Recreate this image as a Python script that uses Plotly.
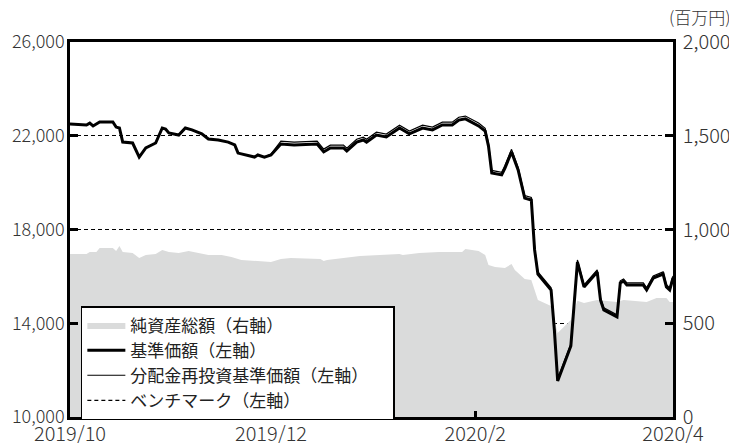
import plotly.graph_objects as go

# ---- data ----
nav_dates = [
    "2019-10-01", "2019-10-06", "2019-10-07", "2019-10-08", "2019-10-10", "2019-10-14",
    "2019-10-15", "2019-10-16", "2019-10-17", "2019-10-20", "2019-10-22", "2019-10-24",
    "2019-10-27", "2019-10-29", "2019-10-30", "2019-10-31", "2019-11-03", "2019-11-05",
    "2019-11-07", "2019-11-10", "2019-11-12", "2019-11-15", "2019-11-18", "2019-11-20",
    "2019-11-21", "2019-11-24", "2019-11-26", "2019-11-27", "2019-11-29", "2019-12-01",
    "2019-12-04", "2019-12-08", "2019-12-15", "2019-12-17", "2019-12-19", "2019-12-23",
    "2019-12-24", "2019-12-27", "2019-12-29", "2019-12-30", "2020-01-02", "2020-01-05",
    "2020-01-09", "2020-01-12", "2020-01-16", "2020-01-19", "2020-01-22", "2020-01-25",
    "2020-01-27", "2020-01-29", "2020-02-02", "2020-02-04", "2020-02-05", "2020-02-06",
    "2020-02-09", "2020-02-10", "2020-02-12", "2020-02-14", "2020-02-16", "2020-02-18",
    "2020-02-19", "2020-02-20", "2020-02-24", "2020-02-25", "2020-02-26", "2020-03-01",
    "2020-03-03", "2020-03-05", "2020-03-09", "2020-03-10", "2020-03-11", "2020-03-15",
    "2020-03-16", "2020-03-17", "2020-03-18", "2020-03-23", "2020-03-24", "2020-03-26",
    "2020-03-29", "2020-03-30", "2020-03-31", "2020-04-01",
]
nav_values = [
    22500, 22460, 22540, 22420, 22590, 22590, 22370, 22330, 21730, 21690, 21090, 21480,
    21690, 22330, 22290, 22120, 22030, 22330, 22250, 22080, 21860, 21820, 21730, 21610,
    21260, 21140, 21090, 21180, 21090, 21180, 21650, 21610, 21650, 21310, 21480, 21480,
    21350, 21730, 21820, 21730, 22030, 21950, 22330, 22080, 22330, 22250, 22460, 22460,
    22670, 22720, 22420, 22200, 21560, 20410, 20330, 20620, 21310, 20540, 19340, 19260,
    17130, 16100, 15420, 13710, 11540, 13030, 16610, 15550, 16190, 14990, 14570, 14270,
    15720, 15800, 15630, 15630, 15420, 15930, 16100, 15550, 15420, 15930,
]
reinvest_values = [
    22500, 22460, 22540, 22420, 22590, 22590, 22370, 22330, 21730, 21690, 21090, 21480,
    21690, 22330, 22290, 22120, 22030, 22330, 22250, 22080, 21860, 21820, 21730, 21610,
    21260, 21140, 21090, 21180, 21090, 21220, 21770, 21730, 21770, 21430, 21600, 21600,
    21470, 21850, 21940, 21850, 22150, 22070, 22450, 22200, 22450, 22370, 22580, 22580,
    22790, 22840, 22540, 22320, 21680, 20520, 20440, 20730, 21420, 20650, 19450, 19370,
    17220, 16190, 15510, 13800, 11630, 13120, 16700, 15640, 16280, 15080, 14660, 14360,
    15810, 15890, 15720, 15720, 15510, 16020, 16190, 15640, 15510, 16020,
]
asset_dates = [
    "2019-10-01", "2019-10-06", "2019-10-07", "2019-10-09", "2019-10-10", "2019-10-14",
    "2019-10-15", "2019-10-16", "2019-10-17", "2019-10-20", "2019-10-22", "2019-10-24",
    "2019-10-27", "2019-10-29", "2019-10-31", "2019-11-03", "2019-11-06", "2019-11-09",
    "2019-11-12", "2019-11-16", "2019-11-19", "2019-11-22", "2019-11-26", "2019-11-28",
    "2019-12-01", "2019-12-04", "2019-12-07", "2019-12-16", "2019-12-17", "2019-12-18",
    "2019-12-24", "2019-12-28", "2020-01-03", "2020-01-09", "2020-01-10", "2020-01-15",
    "2020-01-21", "2020-01-28", "2020-01-29", "2020-02-02", "2020-02-04", "2020-02-05",
    "2020-02-07", "2020-02-10", "2020-02-12", "2020-02-13", "2020-02-16", "2020-02-18",
    "2020-02-20", "2020-02-22", "2020-02-24", "2020-02-26", "2020-03-01", "2020-03-03",
    "2020-03-05", "2020-03-09", "2020-03-15", "2020-03-17", "2020-03-24", "2020-03-27",
    "2020-03-30", "2020-03-31", "2020-04-01",
]
asset_values = [
    869, 869, 880, 880, 901, 901, 885, 912, 880, 875, 848, 864,
    869, 891, 880, 875, 885, 875, 864, 864, 853, 837, 832, 827,
    827, 843, 848, 843, 832, 837, 848, 859, 864, 869, 864, 875,
    880, 880, 896, 885, 864, 811, 800, 795, 816, 784, 736, 731,
    624, 608, 592, 448, 517, 620, 608, 624, 613, 624, 613, 635,
    635, 613, 613,
]
# benchmark: not drawn in the chart (legend entry only)
benchmark_dates = ["2019-10-01"]
benchmark_values = [None]

x_tick_vals = ["2019-10-01", "2019-12-01", "2020-02-01", "2020-04-01"]
x_tick_text = ["2019/10", "2019/12", "2020/2", "2020/4"]
left_ticks = [10000, 14000, 18000, 22000, 26000]
right_ticks = [0, 500, 1000, 1500, 2000]

names = ["純資産総額（右軸）", "基準価額（左軸）",
         "分配金再投資基準価額（左軸）\u00a0\u00a0\u00a0\u00a0\u00a0", "ベンチマーク（左軸）"]
unit_label = "(百万円)"

FONT = "Noto Sans CJK JP"
TXT = "#333333"

fig = go.Figure()
fig.add_trace(go.Scatter(
    x=asset_dates, y=asset_values, name=names[0], mode="lines",
    line=dict(width=0, color="#dadbdb"), fill="tozeroy", fillcolor="#dadbdb",
    yaxis="y",
))
fig.add_trace(go.Scatter(
    x=nav_dates, y=nav_values, name=names[1], mode="lines",
    line=dict(width=3, color="black"), yaxis="y2",
))
fig.add_trace(go.Scatter(
    x=nav_dates, y=reinvest_values, name=names[2], mode="lines",
    line=dict(width=1.2, color="black"), yaxis="y2",
))
fig.add_trace(go.Scatter(
    x=benchmark_dates, y=benchmark_values, name=names[3], mode="lines",
    line=dict(width=1.2, color="black", dash="4px,3px"), yaxis="y2",
))

left_font = dict(family=FONT, size=18, color=TXT, weight=300)
big_font = dict(family=FONT, size=20, color=TXT, weight=300)

fig.update_layout(
    width=729, height=435,
    margin=dict(l=62, r=64, t=34, b=26),
    paper_bgcolor="white", plot_bgcolor="white",
    font=dict(family=FONT, color=TXT),
    showlegend=True,
    legend=dict(
        x=0.018, y=0.296, xanchor="left", yanchor="top",
        bgcolor="white", bordercolor="black", borderwidth=1.5,
        font=dict(family=FONT, size=17, color="#222222"),
        itemwidth=38, tracegroupgap=0,
    ),
    xaxis=dict(
        type="date", range=["2019-10-01", "2020-04-01"],
        tickvals=x_tick_vals, ticktext=x_tick_text,
        ticks="inside", ticklen=6, tickwidth=2.5, tickcolor="black",
        showline=True, linewidth=2.5, linecolor="black", mirror=True,
        showgrid=False, zeroline=False, tickfont=big_font,
        ticklabelstandoff=-3, automargin=False,
    ),
    yaxis=dict(
        side="right", range=[0, 2000], tickvals=right_ticks, tickformat=",d",
        ticks="inside", ticklen=8, tickwidth=2.5, tickcolor="black",
        showline=True, linewidth=2.5, linecolor="black",
        showgrid=True, gridcolor="black", gridwidth=1, griddash="4px,3px",
        zeroline=False, tickfont=big_font, ticklabelstandoff=3, automargin=False,
    ),
    yaxis2=dict(
        side="left", overlaying="y", range=[10000, 26000], tickvals=left_ticks,
        tickformat=",d",
        ticks="inside", ticklen=8, tickwidth=2.5, tickcolor="black",
        showline=True, linewidth=2.5, linecolor="black",
        showgrid=False, zeroline=False, tickfont=left_font,
        ticklabelstandoff=-1, automargin=False,
    ),
    annotations=[dict(
        text=unit_label, xref="paper", yref="paper", x=1.1, y=1.067,
        xanchor="right", yanchor="middle", showarrow=False,
        font=dict(family=FONT, size=17, color=TXT, weight=300),
    )],
)

fig.write_html("out.html")
